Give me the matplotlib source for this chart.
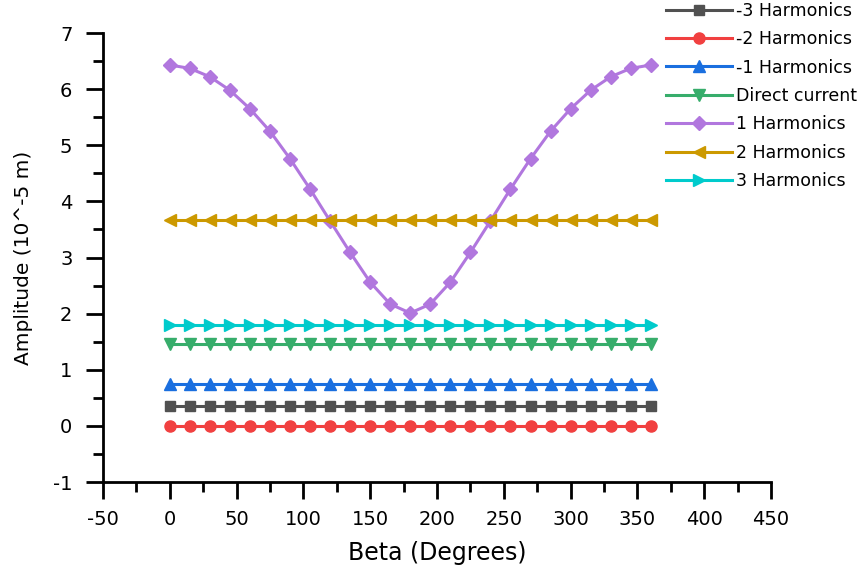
import matplotlib
matplotlib.use("Agg")
import matplotlib.pyplot as plt
from matplotlib.ticker import MultipleLocator

beta = [0, 15, 30, 45, 60, 75, 90, 105, 120, 135, 150, 165, 180,
        195, 210, 225, 240, 255, 270, 285, 300, 315, 330, 345, 360]

harm_m3 = [0.36] * 25
harm_m2 = [0.0] * 25
harm_m1 = [0.75] * 25
direct = [1.46] * 25
harm_1 = [6.43, 6.37, 6.22, 5.98, 5.65, 5.25, 4.76, 4.22, 3.65, 3.09, 2.56, 2.17, 2.01,
          2.17, 2.56, 3.09, 3.65, 4.22, 4.76, 5.25, 5.65, 5.98, 6.22, 6.37, 6.43]
harm_2 = [3.66] * 25
harm_3 = [1.79] * 25

labels = ["-3 Harmonics", "-2 Harmonics", "-1 Harmonics", "Direct current",
          "1 Harmonics", "2 Harmonics", "3 Harmonics"]
series = [harm_m3, harm_m2, harm_m1, direct, harm_1, harm_2, harm_3]
colors = ["#515151", "#F14040", "#1A6FDF", "#37AD6B", "#B177DE", "#CC9900", "#00CBCC"]
markers = ["s", "o", "^", "v", "D", "<", ">"]
sizes = [7.5, 8, 9, 9, 7.5, 9, 9]

plt.rcParams["axes.unicode_minus"] = False

fig = plt.figure(figsize=(8.58, 5.73), dpi=100)
ax = fig.add_axes([0.120, 0.1588, 0.7786, 0.7836])

for values, label, color, marker, size in zip(series, labels, colors, markers, sizes):
    ax.plot(beta, values, color=color, marker=marker, markersize=size,
            linewidth=2.2, label=label)

ax.set_xlim(-50, 450)
ax.set_ylim(-1, 7)
ax.xaxis.set_major_locator(MultipleLocator(50))
ax.xaxis.set_minor_locator(MultipleLocator(25))
ax.yaxis.set_major_locator(MultipleLocator(1))
ax.yaxis.set_minor_locator(MultipleLocator(0.5))

for side in ("top", "right"):
    ax.spines[side].set_visible(False)
for side in ("left", "bottom"):
    ax.spines[side].set_linewidth(2)

ax.tick_params(which="major", direction="out", length=12, width=2, labelsize=14)
ax.tick_params(which="minor", direction="out", length=7, width=2)
ax.tick_params(axis="x", which="major", pad=8)
ax.tick_params(axis="y", which="major", pad=10)

ax.set_xlabel("Beta (Degrees)", fontsize=17, labelpad=9)
ax.set_ylabel("Amplitude (10^-5 m)", fontsize=14.5, labelpad=14)

ax.legend(loc="upper left", bbox_to_anchor=(0.776, 0.997), bbox_transform=fig.transFigure,
          frameon=False, fontsize=12.5, handlelength=3.8, handletextpad=0.25,
          labelspacing=0.6, borderpad=0, borderaxespad=0)

fig.savefig("out.png", dpi=100)
